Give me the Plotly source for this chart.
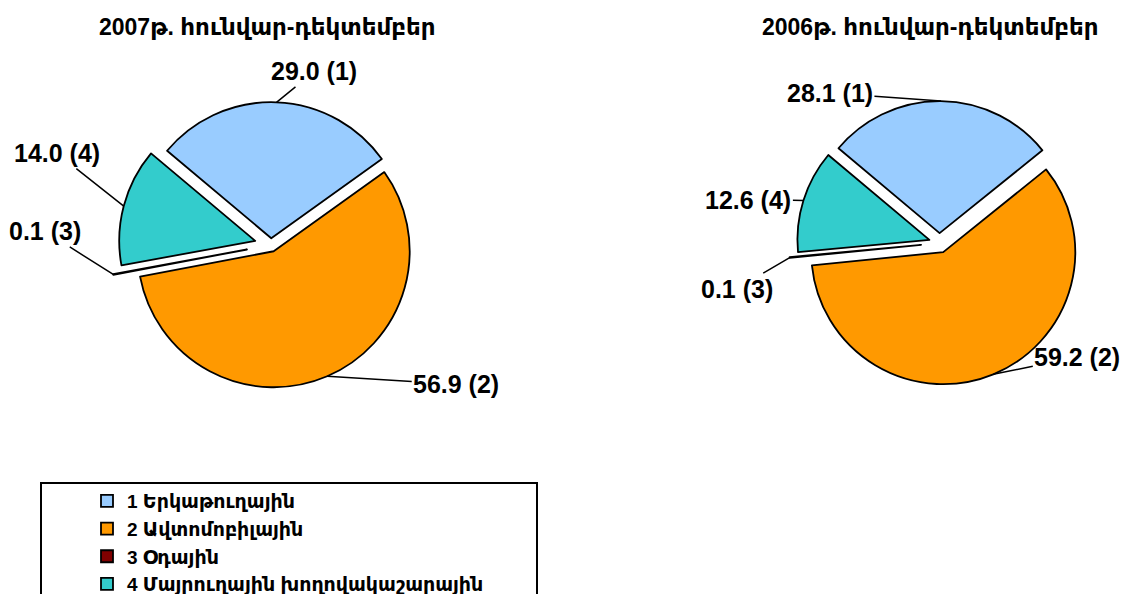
import math
import plotly.graph_objects as go

# Page is 1135x594; the browser body has an 8px margin, so the figure is
# sized to fit and positions below are given in page pixels.
PAGE_OFF = 8
W, H = 1135 - PAGE_OFF, 594 - PAGE_OFF

# ---- data ----
categories = ["1 Երկաթուղային", "2 Ավտոմոբիլային", "3 Օդային", "4 Մայրուղային խողովակաշարային"]
cat_numbers = ["1", "2", "3", "4"]
values_2007 = [29.0, 56.9, 0.1, 14.0]
values_2006 = [28.1, 59.2, 0.1, 12.6]
title_2007 = "2007թ. հունվար-դեկտեմբեր"
title_2006 = "2006թ. հունվար-դեկտեմբեր"

# ---- style ----
colors = ["#99CCFF", "#FF9900", "#800000", "#33CCCC"]
FONT = "Arial, 'Liberation Sans', 'DejaVu Sans', sans-serif"
ROTATION = -50  # first slice starts 50 deg counter-clockwise of 12 o'clock


def fx(px):
    return (px - PAGE_OFF) / W


def fy(py):
    return 1 - (py - PAGE_OFF) / H


pies = [
    dict(values=values_2007, title=title_2007, cx=271.0, cy=245.0, r=136.0,
         pull=[0.05, 0.05, 0.18, 0.12],
         offsets=[(38, -31), (129, 8), (-68, -43), (-67, -53)], title_x=267),
    dict(values=values_2006, title=title_2006, cx=939.5, cy=243.0, r=132.0,
         pull=[0.075, 0.075, 0.14, 0.08],
         offsets=[(-111, -8), (84, -17), (-53, 31), (-55, -1)], title_x=930),
]

fig = go.Figure()
annotations = []
for k, p in enumerate(pies):
    half = p["r"] * (1 + max(p["pull"]))
    dom_x = [fx(p["cx"] - half), fx(p["cx"] + half)]
    dom_y = [fy(p["cy"] + half), fy(p["cy"] - half)]
    fig.add_trace(go.Pie(
        labels=categories, values=p["values"], sort=False, direction="clockwise",
        rotation=ROTATION, pull=p["pull"], textinfo="none",
        marker=dict(colors=colors, line=dict(color="black", width=1.8)),
        domain=dict(x=dom_x, y=dom_y), showlegend=True, hoverinfo="label+value",
    ))
    total = sum(p["values"])
    start = 90 - ROTATION
    cum = 0.0
    for i, v in enumerate(p["values"]):
        mid = math.radians(start - 360.0 * (cum + v / 2.0) / total)
        cum += v
        rr = p["r"] * (1 + p["pull"][i])
        px = p["cx"] + rr * math.cos(mid)
        py = p["cy"] - rr * math.sin(mid)
        ax, ay = p["offsets"][i]
        annotations.append(dict(
            x=fx(px), y=fy(py), xref="paper", yref="paper",
            text=f"{v:.1f} ({cat_numbers[i]})", showarrow=True, arrowhead=0,
            arrowwidth=1.5, arrowcolor="black", ax=ax, ay=ay, standoff=0,
            font=dict(family=FONT, size=25, color="black", weight="bold"),
        ))
    annotations.append(dict(
        x=fx(p["title_x"]), y=fy(27), xref="paper", yref="paper",
        text=p["title"], showarrow=False, xanchor="center", yanchor="middle",
        font=dict(family=FONT, size=23, color="black", weight="bold"),
    ))

fig.update_layout(
    width=W, height=H,
    margin=dict(l=0, r=0, t=0, b=0, autoexpand=False),
    paper_bgcolor="white", plot_bgcolor="white",
    annotations=annotations,
    legend=dict(x=fx(87), y=fy(482), xanchor="left", yanchor="top",
                font=dict(family=FONT, size=19, color="black", weight="bold"),
                bgcolor="rgba(0,0,0,0)", borderwidth=0, traceorder="normal"),
    shapes=[dict(type="rect", xref="paper", yref="paper",
                 x0=fx(41), x1=fx(537), y0=-0.05, y1=fy(483),
                 line=dict(color="black", width=2), fillcolor="rgba(0,0,0,0)")],
)

fig.write_html("out.html")
